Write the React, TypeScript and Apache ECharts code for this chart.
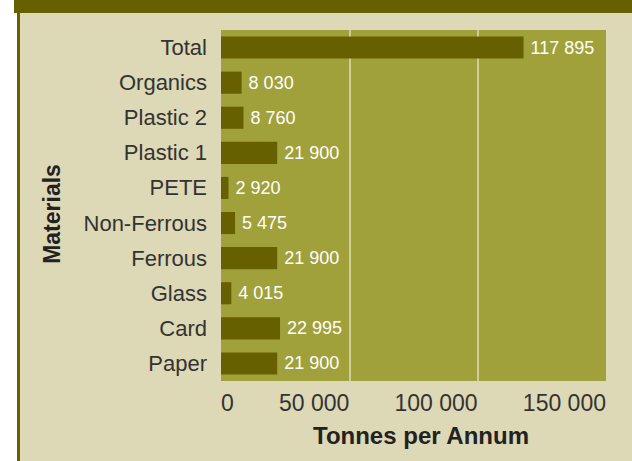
import React, { useEffect, useRef } from "react";
import * as echarts from "echarts";

const categories = ["Total", "Organics", "Plastic 2", "Plastic 1", "PETE", "Non-Ferrous", "Ferrous", "Glass", "Card", "Paper"];
const values = [117895, 8030, 8760, 21900, 2920, 5475, 21900, 4015, 22995, 21900];
const xTicks = [0, 50000, 100000, 150000];

const fmt = (v: number) => String(v).replace(/\B(?=(\d{3})+(?!\d))/g, " ");

export default function App() {
  const ref = useRef<HTMLDivElement>(null);
  useEffect(() => {
    const chart = echarts.init(ref.current!, null, { renderer: "svg" });
    chart.setOption({
      animation: false,
      backgroundColor: "#ffffff",
      graphic: [
        { type: "rect", shape: { x: 17, y: 12, width: 615, height: 449 }, style: { fill: "#ddd8b5" }, z: -10 },
        { type: "rect", shape: { x: 14, y: 0, width: 618, height: 13 }, style: { fill: "#666000" }, z: -9 },
        { type: "rect", shape: { x: 17, y: 12, width: 3, height: 449 }, style: { fill: "#666000" }, z: -9 },
      ],
      grid: {
        left: 221,
        right: 26,
        top: 30,
        bottom: 80,
        show: true,
        backgroundColor: "#a1a13c",
        borderWidth: 0,
      },
      xAxis: {
        type: "value",
        min: xTicks[0],
        max: xTicks[xTicks.length - 1],
        interval: 50000,
        name: "Tonnes per Annum",
        nameLocation: "middle",
        nameGap: 42,
        nameTextStyle: { fontFamily: "Liberation Sans", fontWeight: "bold", fontSize: 24, color: "#222", padding: [0, 0, 0, 15] },
        axisLine: { show: false },
        axisTick: { show: false },
        axisLabel: {
          margin: 10,
          fontFamily: "Liberation Sans",
          fontSize: 23,
          color: "#333",
          align: "right",
          alignMinLabel: "left",
          alignMaxLabel: "right",
          padding: [0, 0, 0, 0],
          formatter: (v: number) => fmt(v),
        },
        splitLine: { show: true, showMinLine: false, showMaxLine: false, lineStyle: { color: "#d0cc98", width: 2 } },
      },
      yAxis: {
        type: "category",
        data: categories,
        inverse: true,
        name: "Materials",
        nameLocation: "middle",
        nameRotate: 90,
        nameGap: 158,
        nameTextStyle: { fontFamily: "Liberation Sans", fontWeight: "bold", fontSize: 23, color: "#222", padding: [0, 17, 0, 0] },
        axisLine: { show: false },
        axisTick: { show: false },
        axisLabel: { margin: 14, fontFamily: "Liberation Sans", fontSize: 22, color: "#333" },
        splitLine: { show: false },
      },
      series: [
        {
          type: "bar",
          data: values,
          barCategoryGap: "37%",
          itemStyle: { color: "#666000" },
          label: {
            show: true,
            position: "right",
            distance: 7,
            fontFamily: "Liberation Sans",
            fontSize: 18,
            color: "#ffffff",
            formatter: (p: any) => fmt(p.value),
          },
        },
      ],
    });
    return () => chart.dispose();
  }, []);
  return <div ref={ref} style={{ position: "fixed", left: 0, top: 0, width: 632, height: 461 }} />;
}
